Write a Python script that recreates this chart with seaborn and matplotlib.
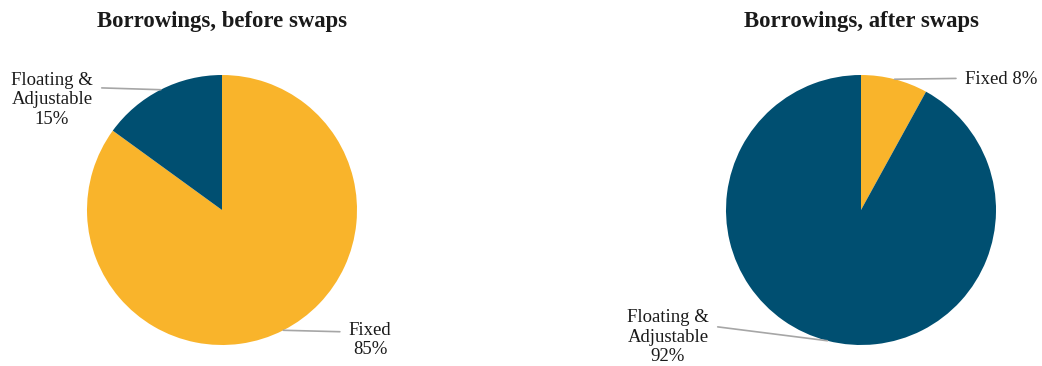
import numpy as np
import matplotlib
matplotlib.use("Agg")
import matplotlib.pyplot as plt
import seaborn as sns

sns.set_theme(style="white")
plt.rcParams['font.family'] = ['Liberation Serif', 'DejaVu Serif']

# data
categories = ["Fixed", "Floating &\nAdjustable"]
before_swaps = [85, 15]
after_swaps = [8, 92]
titles = ["Borrowings, before swaps", "Borrowings, after swaps"]
colors = ["#F9B42B", "#004F71"]

W, H = 1042, 366
fig = plt.figure(figsize=(W/100, H/100), dpi=100)

R = 135
centers = [(222, 210), (861, 210)]

# label text centres (image px) and where the leader line attaches on the text box
label_pos = [
    [((370, 340), (0, 0.72), "Fixed\n{}%"), ((52, 100), (1, 0.72), "Floating &\nAdjustable\n{}%")],
    [((1001, 80), (0, 0.6), "Fixed {}%"), ((668, 337), (1, 0.70), "Floating &\nAdjustable\n{}%")],
]

for i, (vals, title) in enumerate(zip([before_swaps, after_swaps], titles)):
    cx, cy = centers[i]
    ax = fig.add_axes([(cx-R)/W, (H-cy-R)/H, 2*R/W, 2*R/H])
    wedges, _ = ax.pie(vals, colors=colors, startangle=90, counterclock=False,
                       radius=1, wedgeprops=dict(linewidth=0))
    ax.set_xlim(-1, 1); ax.set_ylim(-1, 1); ax.set_aspect("equal")
    ax.axis("off")
    for w, v, (pos, rel, fmt) in zip(wedges, vals, label_pos[i]):
        ang = np.deg2rad((w.theta1 + w.theta2) / 2)
        ax.annotate(fmt.format(v), xy=(np.cos(ang), np.sin(ang)), xycoords="data",
                    xytext=(pos[0], H - pos[1]), textcoords="figure pixels",
                    ha="center", va="center", fontsize=13.5, linespacing=1.2,
                    color="#1a1a1a",
                    arrowprops=dict(arrowstyle="-", color="#a6a6a6", lw=1.2,
                                    relpos=rel, shrinkA=4, shrinkB=0))
    fig.text(cx/W, 1 - 21/H, title, ha="center", va="center",
             fontsize=16.4, fontweight="bold", color="#1a1a1a")

fig.savefig("out.png", dpi=100)
